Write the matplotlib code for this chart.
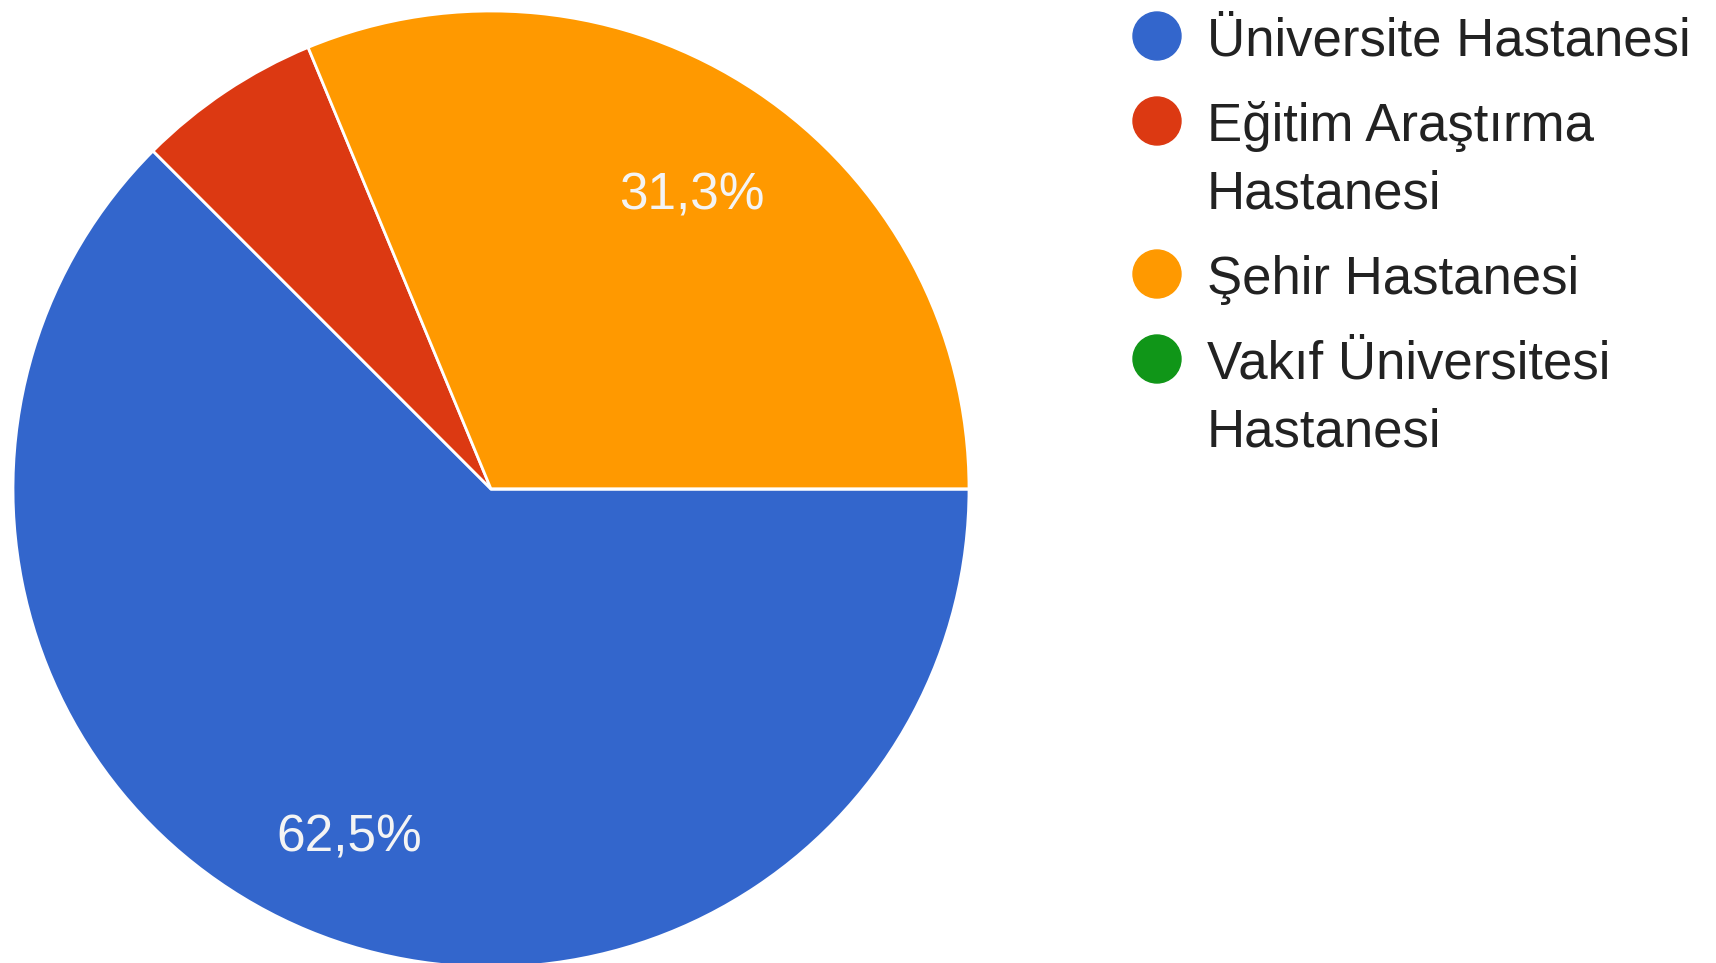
import math
import matplotlib
matplotlib.use("Agg")
import matplotlib.pyplot as plt
from matplotlib.patches import Circle

plt.rcParams["font.family"] = ["Liberation Sans", "DejaVu Sans"]

# survey answers (counts)
labels = [
    "Üniversite Hastanesi",
    "Eğitim Araştırma\nHastanesi",
    "Şehir Hastanesi",
    "Vakıf Üniversitesi\nHastanesi",
]
counts = [10, 1, 5, 0]
colors = ["#3366cc", "#dc3912", "#ff9900", "#109618"]

W, H = 1716, 963
fig = plt.figure(figsize=(W / 100, H / 100), dpi=100)
ax = fig.add_axes([0, 0, 1, 1])


def pct_label(p):
    # google style: hide small slices, comma decimal, round half up
    if p < 10:
        return ""
    v = math.floor(p * 10 + 0.5) / 10
    return f"{v:.1f}%".replace(".", ",")


cx, cy, R = 491, H - 489, 478
wedges, texts, autotexts = ax.pie(
    counts,
    colors=colors,
    startangle=0,
    counterclock=False,
    center=(cx, cy),
    radius=R,
    autopct=pct_label,
    pctdistance=0.765,
    wedgeprops=dict(edgecolor="white", linewidth=2),
)
for t in autotexts:
    t.set_color("#f4f4f4")
    t.set_fontsize(37)
    px, py = t.get_position()
    t.set_position((px - 2, py - 11))

ax.set_xlim(0, W)
ax.set_ylim(0, H)
ax.set_aspect("equal")
ax.axis("off")

# legend drawn by hand (multi-line entries)
dot_x, text_x = 1157, 1207
line_h, entry_gap = 68, 85
y = H - 36
for lab, col in zip(labels, colors):
    ax.add_patch(Circle((dot_x, y), 24, color=col, clip_on=False))
    for k, part in enumerate(lab.split("\n")):
        ax.text(text_x, y - k * line_h, part, fontsize=38, color="#222222",
                va="center_baseline", ha="left")
    y -= (lab.count("\n")) * line_h + entry_gap

fig.savefig("out.png", dpi=100)
